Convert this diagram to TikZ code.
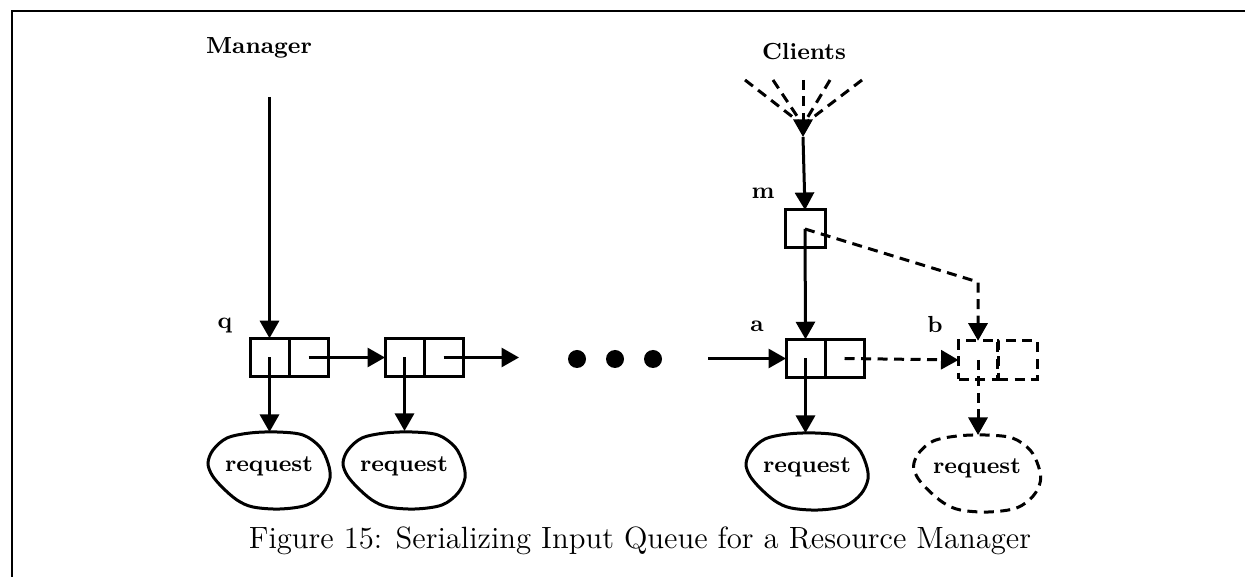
\documentclass[tikz,border=0pt]{standalone}
\usetikzlibrary{arrows.meta,calc}
\begin{document}
\begin{tikzpicture}[x=0.4pt,y=-0.4pt]
\tikzset{
  lw/.style={line width=1.2pt},
  cell/.style={draw, lw, minimum width=15.6pt, minimum height=15.4pt, inner sep=0pt, outer sep=0pt},
  tip/.style={-{Triangle[length=7pt,width=7.6pt]}},
  dsh/.style={dash pattern=on 4pt off 2.6pt},
  lbl/.style={font=\fontsize{9.3}{11}\selectfont\bfseries, inner sep=0pt},
  dot/.style={circle, fill, minimum size=7.2pt, inner sep=0pt},
}
\newcommand\reqblob[2][]{%
  \draw[lw,shift={(#2)},#1] plot[smooth cycle, tension=0.55] coordinates
    {(-61,-7) (-56,-20) (-42,-32) (-19,-37) (8,-38) (34,-35) (51,-23)
     (59,-7) (61,8) (54,23) (38,35) (11,39) (-16,37) (-32,30) (-47,17) (-57,5)};}
\useasboundingbox (0,0) rectangle (1245,577);

% frame
\draw[line width=1pt] (12,577) -- (12,11) -- (1245,11);

% headings
\node[lbl] (mgr) at (259,48) {Manager};
\node[lbl] (cli) at (804,52) {Clients};

% queue cells
\node[cell] (q1l) at (269.5,357.5) {};
\node[cell] (q1r) at (308.5,357.5) {};
\node[cell] (q2l) at (404.5,357.5) {};
\node[cell] (q2r) at (443.5,357.5) {};
\node[cell] (al) at (805.5,358.5) {};
\node[cell] (ar) at (844.5,358.5) {};
\node[cell,dsh] (bl) at (978,360) {};
\node[cell,dsh] (br) at (1017.5,360) {};
\node[cell,minimum width=16pt,minimum height=15.2pt] (m) at (805,229) {};

% cell labels
\node[lbl] (lq) at (225,326) {q};
\node[lbl] (la) at (757,326) {a};
\node[lbl] (lb) at (935,325) {b};
\node[lbl] (lm) at (763,193) {m};

% ellipsis
\node[dot] (d1) at (577,359) {};
\node[dot] (d2) at (615,359) {};
\node[dot] (d3) at (653,359) {};

% request blobs
\coordinate (c1) at (269,470);
\coordinate (c2) at (404,470);
\coordinate (c3) at (807,471);
\coordinate (c4) at (977,473);
\reqblob{c1}
\reqblob{c2}
\reqblob{c3}
\reqblob[dsh,xscale=1.04]{c4}
\node[lbl] (r1) at ($(c1)+(0,-4)$) {request};
\node[lbl] (r2) at ($(c2)+(0,-4)$) {request};
\node[lbl] (r3) at ($(c3)+(0,-4)$) {request};
\node[lbl] (r4) at ($(c4)+(0,-5)$) {request};
\coordinate (t1) at (269.5,432);
\coordinate (t2) at (404.5,431);
\coordinate (t3) at (805.5,433);
\coordinate (t4) at (978,435);

% manager pointer
\coordinate (mtop) at (269.5,97);
\draw[lw,tip] (mtop) -- (q1l.north);

% queue links
\draw[lw,tip] (q1r.center) -- (q2l.west);
\coordinate (q2out) at (519,357.5);
\draw[lw,tip] (q2r.center) -- (q2out);
\coordinate (ain) at (708,358.5);
\draw[lw,tip] (ain) -- (al.west);
\draw[lw,dsh,tip] (ar.center) -- (bl.west);

% request pointers
\draw[lw,tip] (q1l.center) -- (t1);
\draw[lw,tip] (q2l.center) -- (t2);
\draw[lw,tip] (al.center) -- (t3);
\draw[lw,dsh,tip] (bl.center) -- (t4);

% clients fan-in
\coordinate (hub) at (803,137);
\coordinate (hubc) at (803,125);
\coordinate (f1) at (745,80);
\coordinate (f2) at (773,80);
\coordinate (f3) at (803,80);
\coordinate (f4) at (830,80);
\coordinate (f5) at (862,80);
\draw[lw,dsh] (f1) -- (hubc);
\draw[lw,dsh] (f2) -- (hubc);
\draw[lw,dsh,tip] (f3) -- (hub);
\draw[lw,dsh] (f4) -- (hubc);
\draw[lw,dsh] (f5) -- (hubc);
\draw[lw,tip] (hub) -- (m.north);

% m pointers
\draw[lw,tip] (m.center) -- (al.north);
\coordinate (mbend) at (978,282);
\draw[lw,dsh,tip] (m.center) -- (mbend) -- (bl.north);

% caption
\node[font=\fontsize{12.3}{14}\selectfont, inner sep=0pt] (cap) at (640,541)
  {Figure 15: Serializing Input Queue for a Resource Manager};
\end{tikzpicture}
\end{document}
